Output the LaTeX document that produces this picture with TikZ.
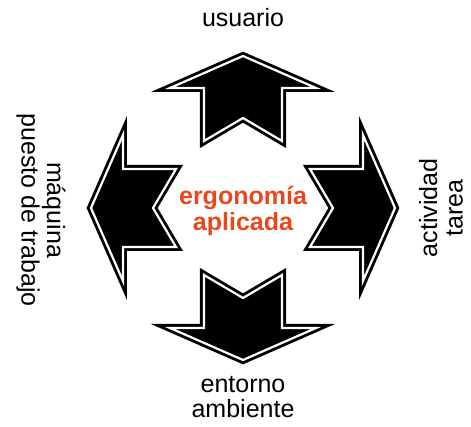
\documentclass[tikz,border=0pt]{standalone}
\usepackage{fontspec}
\setmainfont{Liberation Sans}
\usetikzlibrary{calc}

\begin{document}
\begin{tikzpicture}[
  x=0.5pt,
  y=0.5pt,
  body/.style={fill=black,draw=black,line width=4pt,line join=miter},
  gap/.style={draw=white,line width=1.1pt,line join=miter},
  label/.style={align=center,inner sep=0pt,font=\fontsize{12.5}{12.8}\selectfont},
  core/.style={align=center,inner sep=0pt,font=\fontsize{12.5}{11}\selectfont\bfseries,text=figorange}
]
\definecolor{figorange}{RGB}{232,72,28}

\useasboundingbox (-243,-219) rectangle (228,208);

% Four notched arrows around the centre, one per direction.
\foreach \ang in {90,0,180,270}{
  \draw[body, rotate=\ang]
    (67,39) -- (120,39) -- (120,73) -- (152,0) -- (120,-73) -- (120,-39) -- (67,-39) -- (90,0) -- cycle;
  \draw[gap, rotate=\ang]
    (67,39) -- (120,39) -- (120,73) -- (152,0) -- (120,-73) -- (120,-39) -- (67,-39) -- (90,0) -- cycle;
}

% Centre text.
\node[core] (centre) at (0,-3) {ergonomía\\aplicada};

% Labels at the arrow tips.
\node[label] (user) at (0,190) {usuario};
\node[label] (env) at (0,-189) {entorno\\ambiente};
\node[label, rotate=90] (task) at (198,0) {actividad\\tarea};
\node[label, rotate=-90] (machine) at (-202,-2) {máquina\\puesto de trabajo};
\end{tikzpicture}
\end{document}
